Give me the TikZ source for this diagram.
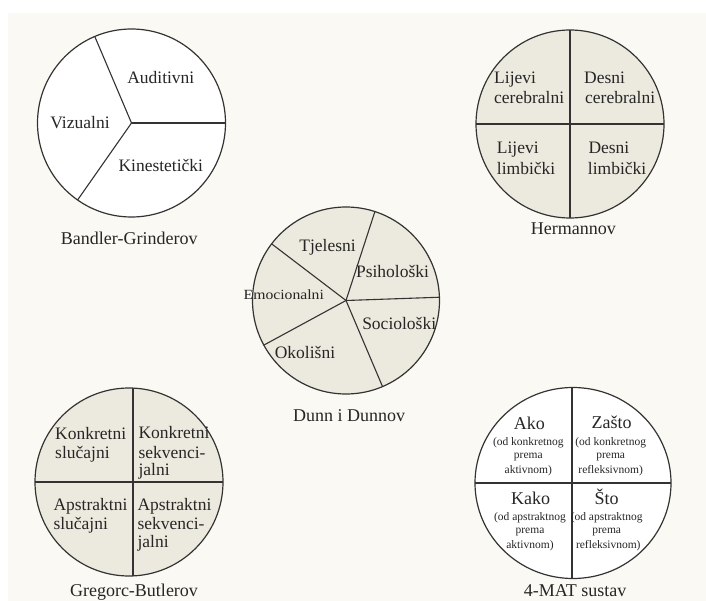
\documentclass[tikz,border=0pt]{standalone}
\usepackage{fontspec}
\setmainfont{Liberation Serif}
\definecolor{paper}{HTML}{FAF9F3}
\definecolor{beige}{HTML}{ECE9DE}
\definecolor{ink}{HTML}{333333}
\definecolor{txt}{HTML}{262626}
\begin{document}
\begin{tikzpicture}[x=1pt,y=-1pt,
  rim/.style={draw=ink,line width=1.2pt},
  divider/.style={draw=ink,line width=1.1pt},
  lbl/.style={inner sep=0pt,text=txt,font=\fontsize{17.5}{20}\selectfont},
  captext/.style={inner sep=0pt,text=txt,font=\fontsize{18}{20}\selectfont,anchor=base},
  headtext/.style={inner sep=0pt,text=txt,font=\fontsize{18}{20}\selectfont,anchor=base},
  smalltext/.style={inner sep=0pt,text=txt,font=\fontsize{11.5}{13}\selectfont,anchor=base}]
\useasboundingbox (0,0) rectangle (706,601);
\fill[white] (0,0) rectangle (706,601);
\fill[paper] (8,13) rectangle (706,601);

% ---------- Bandler-Grinderov ----------
\coordinate (c1) at (131.5,123);
\draw[rim,fill=white] (c1) circle[radius=94];
\draw[divider] (c1) -- ++(0:94);
\draw[divider] (c1) -- ++(-113:94);
\draw[divider] (c1) -- ++(-235:94);
\node[lbl,anchor=base] (aud) at (160.8,84) {Auditivni};
\node[lbl,anchor=base] (viz) at (80,128.3) {Vizualni};
\node[lbl,anchor=base] (kin) at (160.8,171.7) {Kinestetički};
\node[captext] (capA) at (129.2,245) {Bandler-Grinderov};

% ---------- Hermannov ----------
\coordinate (c2) at (570,124);
\draw[rim,fill=beige] (c2) circle[radius=94];
\draw[divider] ([yshift=-94pt]c2) -- ([yshift=94pt]c2);
\draw[divider] ([xshift=-94pt]c2) -- ([xshift=94pt]c2);
\node[lbl,anchor=base west] (h1a) at (494,84) {Lijevi};
\node[lbl,anchor=base west] (h1b) at (494,103.5) {cerebralni};
\node[lbl,anchor=base west] (h2a) at (584,84) {Desni};
\node[lbl,anchor=base west] (h2b) at (585,103.5) {cerebralni};
\node[lbl,anchor=base west] (h3a) at (496.7,153.5) {Lijevi};
\node[lbl,anchor=base west] (h3b) at (496.7,175) {limbički};
\node[lbl,anchor=base west] (h4a) at (588.3,153.5) {Desni};
\node[lbl,anchor=base west] (h4b) at (587.7,175) {limbički};
\node[captext] (capB) at (573.3,235) {Hermannov};

% ---------- Dunn i Dunnov ----------
\coordinate (c3) at (346,300.5);
\draw[rim,fill=beige] (c3) circle[radius=93.5];
\draw[divider] (c3) -- ++(-72:93.5);
\draw[divider] (c3) -- ++(-2:93.5);
\draw[divider] (c3) -- ++(67:93.5);
\draw[divider] (c3) -- ++(151.5:93.5);
\draw[divider] (c3) -- ++(217.3:93.5);
\node[lbl,anchor=base] (tje) at (327.5,251.7) {Tjelesni};
\node[lbl,anchor=base] (psi) at (392.5,277.3) {Psihološki};
\node[lbl,anchor=base,font=\fontsize{14}{16}\selectfont] (emo) at (283.8,300) {\scalebox{1.12}[1]{Emocionalni}};
\node[lbl,anchor=base] (soc) at (399.2,330) {Sociološki};
\node[lbl,anchor=base] (oko) at (305,358.3) {Okolišni};
\node[captext] (capC) at (349,421.7) {Dunn i Dunnov};

% ---------- Gregorc-Butlerov ----------
\coordinate (c4) at (129,482);
\draw[rim,fill=beige] (c4) circle[radius=94];
\draw[divider] (133,388.1) -- (133,575.9);
\draw[divider] ([xshift=-94pt]c4) -- ([xshift=94pt]c4);
\node[lbl,anchor=base west] (g1a) at (55,439.5) {Konkretni};
\node[lbl,anchor=base west] (g1b) at (55,458) {slučajni};
\node[lbl,anchor=base west] (g2a) at (138.3,438.3) {Konkretni};
\node[lbl,anchor=base west] (g2b) at (138.3,458.3) {sekvenci-};
\node[lbl,anchor=base west] (g2c) at (138.3,475.5) {jalni};
\node[lbl,anchor=base west] (g3a) at (53.3,510) {Apstraktni};
\node[lbl,anchor=base west] (g3b) at (53.3,529) {slučajni};
\node[lbl,anchor=base west] (g4a) at (137.3,510) {Apstraktni};
\node[lbl,anchor=base west] (g4b) at (137.3,529.3) {sekvenci-};
\node[lbl,anchor=base west] (g4c) at (137.3,547) {jalni};
\node[captext] (capD) at (134,596) {Gregorc-Butlerov};

% ---------- 4-MAT sustav ----------
\coordinate (c5) at (573,483);
\draw[rim,fill=white] (c5) ellipse[x radius=98,y radius=95.5];
\draw[divider] (572,387.5) -- (572,578.5);
\draw[divider] ([xshift=-98pt]c5) -- ([xshift=98pt]c5);
\node[headtext] (m1) at (529.3,429.3) {Ako};
\node[smalltext] (m1a) at (528.3,445) {(od konkretnog};
\node[smalltext] (m1b) at (528.3,458.3) {prema};
\node[smalltext] (m1c) at (528.3,473.3) {aktivnom)};
\node[headtext] (m2) at (611.7,428.3) {Zašto};
\node[smalltext] (m2a) at (610.7,445) {(od konkretnog};
\node[smalltext] (m2b) at (610.7,458.3) {prema};
\node[smalltext] (m2c) at (610.7,473.3) {refleksivnom)};
\node[headtext] (m3) at (530.7,504.3) {Kako};
\node[smalltext] (m3a) at (530,520) {(od apstraktnog};
\node[smalltext] (m3b) at (530,533.3) {prema};
\node[smalltext] (m3c) at (530,548.3) {aktivnom)};
\node[headtext] (m4) at (606.7,504.3) {Što};
\node[smalltext] (m4a) at (606.7,520) {(od apstraktnog};
\node[smalltext] (m4b) at (606.7,533.3) {prema};
\node[smalltext] (m4c) at (608.3,548.3) {refleksivnom)};
\node[captext] (capE) at (575,596) {4-MAT sustav};
\end{tikzpicture}
\end{document}
